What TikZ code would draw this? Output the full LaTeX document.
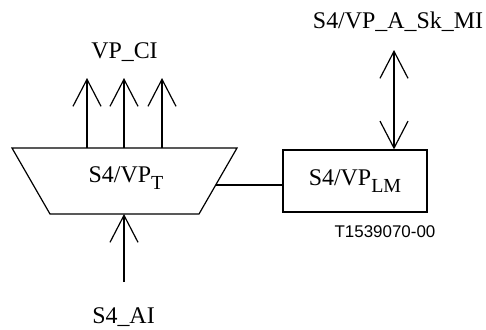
\documentclass[tikz,border=0pt]{standalone}
\usepackage{fontspec}
\setmainfont{Liberation Serif}
\newfontfamily\tagfont{Liberation Sans}
\usetikzlibrary{positioning,arrows.meta,calc}
\newcommand{\lowsub}[1]{\raisebox{-3.6bp}{\fontsize{10}{10}\selectfont #1}}

\begin{document}
\begin{tikzpicture}[x=0.5bp, y=-0.5bp, line width=0.6bp,
    font=\fontsize{12}{14}\selectfont,
    flow/.style={-{Straight Barb[length=13.5bp, width=14bp]}},
    both/.style={{Straight Barb[length=13.5bp, width=14bp]}-{Straight Barb[length=13.5bp, width=14bp]}},
    sig/.style={anchor=base, inner sep=0pt},
    blockbox/.style={draw, minimum width=72bp, minimum height=31bp, inner sep=0pt}]
    \useasboundingbox (0,0) rectangle (486,329);
    % adaptation function (trapezium)
    \coordinate (tl) at (12,148);
    \coordinate (tr) at (237,148);
    \coordinate (br) at (199,214);
    \coordinate (bl) at (50,214);
    \draw (tl) -- (tr) -- (br) -- (bl) -- cycle;
    \node[sig] (vpt) at (126,182) {S4/VP\lowsub{T}};
    % layer management box
    \node[blockbox] (lm) at (355,181) {\raisebox{1.5bp}{S4/VP\lowsub{LM}}};
    \coordinate (side) at ($(tr)!0.56!(br)$);
    \draw (side) -- (side -| lm.west);
    % characteristic info out
    \foreach \x in {87,124,162} {
      \coordinate (ci\x) at (\x,78);
      \draw[flow] (\x,148) -- (ci\x);
    }
    \node[sig] (ci) at (124.5,58) {VP\_CI};
    % adapted info in
    \coordinate (aitail) at (124,282);
    \draw[flow] (aitail) -- (aitail |- bl);
    \node[sig] (ai) at (123.5,323) {S4\_AI};
    % management point
    \coordinate (mitip) at (394,50);
    \draw[both] (mitip) -- (mitip |- lm.north);
    \node[sig] (mi) at (398,28) {S4/VP\_A\_Sk\_MI};
    \node[sig, font=\tagfont\fontsize{8.5}{10}\selectfont] (tag) at (385,237) {T1539070-00};
\end{tikzpicture}
\end{document}
